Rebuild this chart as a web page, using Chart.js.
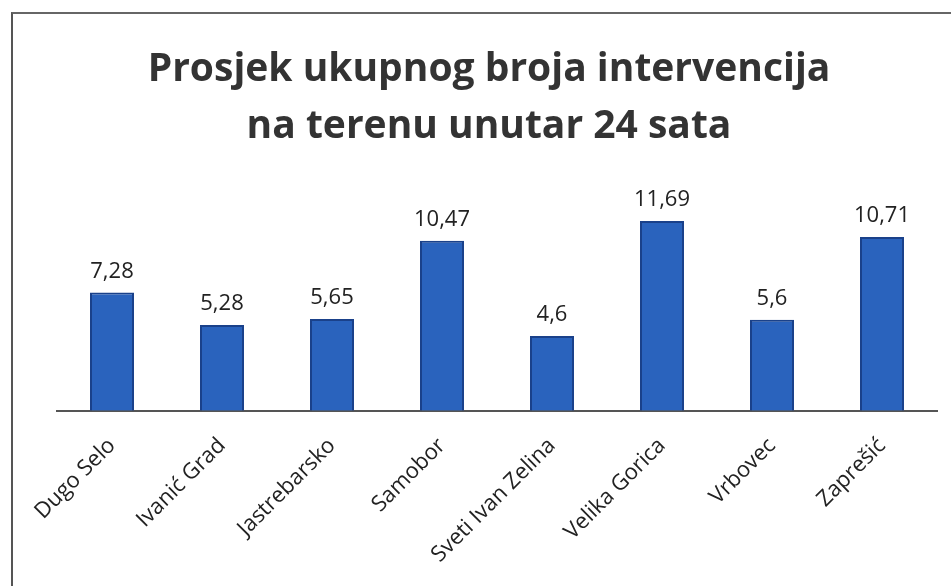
<!DOCTYPE html>
<html>
<head>
<meta charset="utf-8">
<script src="https://cdn.jsdelivr.net/npm/chart.js@4"></script>
<style>
  body { margin: 0; background: #fff; }
  #wrap { position: relative; width: 951px; height: 586px; }
  #frame { position: absolute; left: 11px; top: 12px; width: 960px; height: 600px;
           border-top: 2px solid #666; border-left: 2px solid #555; }
  canvas { position: absolute; left: 0; top: 0; }
</style>
</head>
<body>
<div id="wrap">
  <div id="frame"></div>
  <canvas id="chart" width="951" height="586"></canvas>
</div>
<script>
// categories and values
var towns = ['Dugo Selo', 'Ivanić Grad', 'Jastrebarsko', 'Samobor', 'Sveti Ivan Zelina', 'Velika Gorica', 'Vrbovec', 'Zaprešić'];
var averages = [7.28, 5.28, 5.65, 10.47, 4.6, 11.69, 5.6, 10.71];
var titleLines = ['Prosjek ukupnog broja intervencija', 'na terenu unutar 24 sata'];

// draws the value above each bar
var valueLabels = {
    id: 'valueLabels',
    afterDatasetsDraw: function(chart) {
        var ctx = chart.ctx;
        var meta = chart.getDatasetMeta(0);
        ctx.save();
        ctx.font = '22px "Open Sans", sans-serif';
        ctx.fillStyle = '#222';
        ctx.textAlign = 'center';
        ctx.textBaseline = 'bottom';
        meta.data.forEach(function(bar, i) {
            var text = String(averages[i]).replace('.', ',');
            ctx.fillText(text, bar.x, bar.y - 10);
        });
        ctx.restore();
    }
};

var ctx = document.getElementById('chart').getContext('2d');
var chart = new Chart(ctx, {
    type: 'bar',
    data: {
        labels: towns,
        datasets: [{
            data: averages,
            backgroundColor: '#2a63bd',
            borderColor: '#1a418a',
            borderWidth: 2,
            barPercentage: 0.4,
            categoryPercentage: 1.0
        }]
    },
    options: {
        responsive: false,
        animation: false,
        layout: { padding: { left: 41, right: 14, top: 0, bottom: -4 } },
        plugins: {
            legend: { display: false },
            tooltip: { enabled: false },
            title: {
                display: true,
                text: titleLines,
                color: '#333',
                font: { family: '"Open Sans", sans-serif', size: 39, weight: 'bold', lineHeight: 1.45 },
                padding: { top: 42, bottom: 30 }
            }
        },
        scales: {
            x: {
                grid: { display: false, drawTicks: false },
                border: { display: true, color: '#555', width: 2 },
                ticks: {
                    color: '#222',
                    font: { family: '"Open Sans", sans-serif', size: 22 },
                    minRotation: 45,
                    maxRotation: 45,
                    padding: 22
                }
            },
            y: {
                display: true,
                min: 0,
                max: 13.9,
                grid: { display: false },
                border: { display: false },
                ticks: { display: false },
                afterFit: function(scale) { scale.width = 16; }
            }
        }
    },
    plugins: [valueLabels]
});
</script>
</body>
</html>
